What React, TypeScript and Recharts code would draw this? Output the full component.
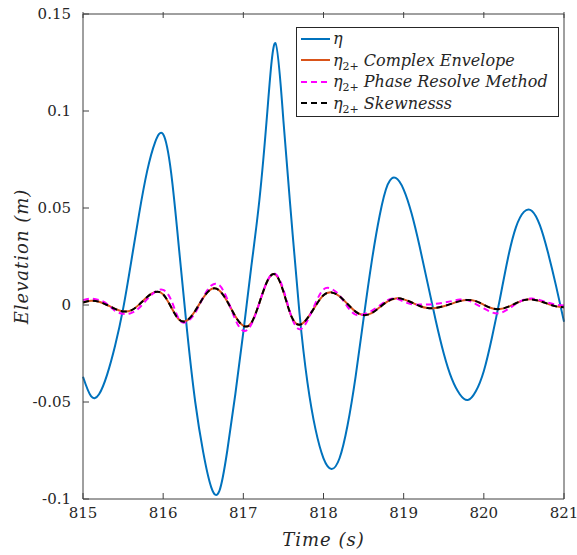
import { LineChart, Line, XAxis, YAxis, Legend } from 'recharts';

// time samples (s)
const time = [
  815.0, 815.1, 815.2, 815.3, 815.4, 815.5, 815.6, 815.7, 815.8, 815.9,
  816.0, 816.1, 816.2, 816.3, 816.4, 816.5, 816.6, 816.7, 816.8, 816.9,
  817.0, 817.1, 817.2, 817.3, 817.4, 817.5, 817.6, 817.7, 817.8, 817.9,
  818.0, 818.1, 818.2, 818.3, 818.4, 818.5, 818.6, 818.7, 818.8, 818.9,
  819.0, 819.1, 819.2, 819.3, 819.4, 819.5, 819.6, 819.7, 819.8, 819.9,
  820.0, 820.1, 820.2, 820.3, 820.4, 820.5, 820.6, 820.7, 820.8, 820.9,
  821.0,
];

// surface elevation eta (m)
const eta = [
  -0.037, -0.047, -0.046, -0.036, -0.021, -0.002, 0.022, 0.047, 0.069, 0.084,
  0.088, 0.068, 0.028, -0.014, -0.05, -0.076, -0.094, -0.096, -0.075, -0.046,
  -0.014, 0.02, 0.054, 0.1, 0.135, 0.095, 0.044, -0.004, -0.04, -0.064,
  -0.079, -0.0845, -0.079, -0.062, -0.037, -0.007, 0.022, 0.046, 0.062, 0.0655,
  0.0595, 0.047, 0.03, 0.011, -0.008, -0.025, -0.038, -0.046, -0.049, -0.0445,
  -0.034, -0.017, 0.003, 0.024, 0.04, 0.048, 0.0485, 0.041, 0.027, 0.01,
  -0.0086,
];

// eta_2+ from complex envelope
const etaComplex = [
  0.0013, 0.0022, 0.0017, 0.0, -0.002, -0.0033, -0.0028, 0.0002, 0.0041, 0.0067,
  0.0055, -0.0012, -0.0076, -0.0079, -0.003, 0.0037, 0.0082, 0.0075, 0.0018, -0.0058,
  -0.0107, -0.0092, 0.0011, 0.0124, 0.0157, 0.0069, -0.0059, -0.0102, -0.0068, -0.0005,
  0.005, 0.0065, 0.0045, 0.0005, -0.0034, -0.0052, -0.0042, -0.0012, 0.0019, 0.0034,
  0.0029, 0.0013, -0.0005, -0.0016, -0.0015, -0.0006, 0.0007, 0.002, 0.0026, 0.002,
  0.0001, -0.0017, -0.0021, -0.001, 0.0009, 0.0025, 0.0029, 0.002, 0.0006, -0.0007,
  -0.0012,
];

// eta_2+ from phase resolve method
const etaPhase = [
  0.0025, 0.0033, 0.0026, 0.0005, -0.003, -0.0045, -0.0042, -0.0015, 0.003, 0.0068,
  0.0078, 0.0025, -0.0075, -0.0085, -0.004, 0.004, 0.01, 0.0102, 0.003, -0.0075,
  -0.0133, -0.01, 0.001, 0.0125, 0.016, 0.008, -0.006, -0.0125, -0.008, 0.001,
  0.008, 0.0083, 0.005, -0.001, -0.005, -0.0048, -0.003, -0.0003, 0.0025, 0.0033,
  0.0018, 0.0004, 0.0002, 0.0003, 0.0006, 0.0012, 0.002, 0.0028, 0.0024, 0.0005,
  -0.0018, -0.0038, -0.0042, -0.0022, 0.0005, 0.0027, 0.0033, 0.0025, 0.0012, 0.0002,
  -0.0003,
];

// eta_2+ from skewness
const etaSkew = [
  0.0013, 0.0022, 0.0017, 0.0, -0.002, -0.0033, -0.0028, 0.0002, 0.0041, 0.0067,
  0.0055, -0.0012, -0.0076, -0.0079, -0.003, 0.0037, 0.0082, 0.0075, 0.0018, -0.0058,
  -0.0107, -0.0092, 0.0011, 0.0124, 0.0157, 0.0069, -0.0059, -0.0102, -0.0068, -0.0005,
  0.005, 0.0065, 0.0045, 0.0005, -0.0034, -0.0052, -0.0042, -0.0012, 0.0019, 0.0034,
  0.0029, 0.0013, -0.0005, -0.0016, -0.0015, -0.0006, 0.0007, 0.002, 0.0026, 0.002,
  0.0001, -0.0017, -0.0021, -0.001, 0.0009, 0.0025, 0.0029, 0.002, 0.0006, -0.0007,
  -0.0012,
];

const xTicks = [815, 816, 817, 818, 819, 820, 821];
const yTicks = [-0.1, -0.05, 0, 0.05, 0.1, 0.15];

const data = time.map((t, i) => ({
  t,
  eta: eta[i],
  complex: etaComplex[i],
  phase: etaPhase[i],
  skew: etaSkew[i],
}));

const AXIS = '#404040';
const TXT = '#262626';
const FONT = '"DejaVu Serif", serif';
const TICK_LEN = 6;

const LeftTick = (props: any) => {
  const { x, y, payload } = props;
  return (
    <g>
      <line x1={x + 12} x2={x + 12 + TICK_LEN} y1={y} y2={y} stroke={AXIS} />
      <text x={x} y={y} dy={5} textAnchor="end" fill={TXT} fontFamily={FONT} fontSize={15}>
        {String(payload.value)}
      </text>
    </g>
  );
};

const RightTick = (props: any) => {
  const { x, y } = props;
  return <line x1={x} x2={x - TICK_LEN} y1={y} y2={y} stroke={AXIS} />;
};

const BottomTick = (props: any) => {
  const { x, y, payload } = props;
  return (
    <g>
      <line x1={x} x2={x} y1={y - 8} y2={y - 8 - TICK_LEN} stroke={AXIS} />
      <text x={x} y={y} dy={11} textAnchor="middle" fill={TXT} fontFamily={FONT} fontSize={15}>
        {String(payload.value)}
      </text>
    </g>
  );
};

const TopTick = (props: any) => {
  const { x, y } = props;
  return <line x1={x} x2={x} y1={y} y2={y + TICK_LEN} stroke={AXIS} />;
};

const labelStyle = {
  fontFamily: FONT,
  fontStyle: 'italic',
  fontSize: 18,
  fill: TXT,
};

const renderName = (name: string) => {
  if (name.startsWith('η2+ ')) {
    return (
      <>
        η<span style={{ fontStyle: 'normal', fontSize: 11, position: 'relative', top: 4 }}>2+</span>
        <span style={{ marginLeft: 5 }}>{name.slice(4)}</span>
      </>
    );
  }
  return name;
};

const renderLegend = (props: any) => {
  const { payload } = props;
  return (
    <div
      style={{
        border: `1px solid ${TXT}`,
        background: '#fff',
        boxSizing: 'border-box',
        width: 263,
        height: 90,
        paddingTop: 0,
      }}
    >
      {payload.map((entry: any) => (
        <div key={entry.value} style={{ display: 'flex', alignItems: 'center', height: 21.5 }}>
          <svg width={36} height={10} style={{ flex: 'none' }}>
            <line
              x1={4}
              x2={33}
              y1={5}
              y2={5}
              stroke={entry.color}
              strokeWidth={2}
              strokeDasharray={entry.payload?.strokeDasharray}
            />
          </svg>
          <span style={{ fontFamily: FONT, fontStyle: 'italic', fontSize: 16, color: TXT, whiteSpace: 'nowrap' }}>
            {renderName(entry.value)}
          </span>
        </div>
      ))}
    </div>
  );
};

export default function App() {
  return (
    <div style={{ position: 'absolute', left: 0, top: 0, background: '#fff' }}>
      <LineChart width={577} height={555} data={data} margin={{ top: 0, right: 0, bottom: 0, left: 0 }}>
        <XAxis
          dataKey="t"
          type="number"
          domain={[815, 821]}
          ticks={xTicks}
          height={56}
          tickSize={0}
          tickMargin={8}
          tickLine={false}
          tick={<BottomTick />}
          axisLine={{ stroke: AXIS }}
          label={{
            content: ({ viewBox }: any) => (
              <text
                x={viewBox.x + viewBox.width / 2}
                y={viewBox.y + 47}
                textAnchor="middle"
                letterSpacing={1}
                style={labelStyle}
              >
                Time (s)
              </text>
            ),
          }}
        />
        <XAxis
          xAxisId="top"
          orientation="top"
          dataKey="t"
          type="number"
          domain={[815, 821]}
          ticks={xTicks}
          height={14}
          tickSize={0}
          tickLine={false}
          tick={<TopTick />}
          axisLine={{ stroke: AXIS }}
        />
        <YAxis
          type="number"
          domain={[-0.1, 0.15]}
          ticks={yTicks}
          width={83}
          tickSize={0}
          tickMargin={12}
          tickLine={false}
          tick={<LeftTick />}
          axisLine={{ stroke: AXIS }}
          label={{
            content: ({ viewBox }: any) => {
              const cx = viewBox.x + 28;
              const cy = viewBox.y + viewBox.height / 2;
              return (
                <text
                  x={cx}
                  y={cy}
                  textAnchor="middle"
                  letterSpacing={1}
                  transform={`rotate(-90 ${cx} ${cy})`}
                  style={labelStyle}
                >
                  Elevation (m)
                </text>
              );
            },
          }}
        />
        <YAxis
          yAxisId="right"
          orientation="right"
          type="number"
          domain={[-0.1, 0.15]}
          ticks={yTicks}
          width={13}
          tickSize={0}
          tickLine={false}
          tick={<RightTick />}
          axisLine={{ stroke: AXIS }}
        />
        <Line
          type="natural"
          dataKey="eta"
          name="η"
          stroke="#0072BD"
          strokeWidth={2}
          dot={false}
          isAnimationActive={false}
        />
        <Line
          type="natural"
          dataKey="complex"
          name="η2+ Complex Envelope"
          stroke="#D95319"
          strokeWidth={2}
          dot={false}
          isAnimationActive={false}
        />
        <Line
          type="natural"
          dataKey="phase"
          name="η2+ Phase Resolve Method"
          stroke="#FF00FF"
          strokeWidth={2}
          strokeDasharray="6 4"
          dot={false}
          isAnimationActive={false}
        />
        <Line
          type="natural"
          dataKey="skew"
          name="η2+ Skewnesss"
          stroke="#000000"
          strokeWidth={2}
          strokeDasharray="6 4"
          dot={false}
          isAnimationActive={false}
        />
        <Legend
          layout="vertical"
          align="center"
          verticalAlign="middle"
          content={renderLegend}
          wrapperStyle={{ left: 296, top: 27, width: 263, height: 90 }}
        />
      </LineChart>
    </div>
  );
}
